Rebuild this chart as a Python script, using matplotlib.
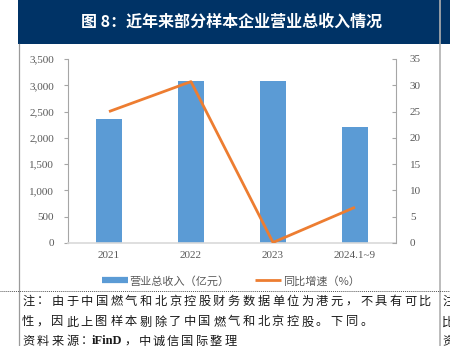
import matplotlib
matplotlib.use("Agg")
import matplotlib.pyplot as plt
from matplotlib.lines import Line2D
from matplotlib.patches import Rectangle

# ---- data ----
years = ["2021", "2022", "2023", "2024.1~9"]
revenue = [2350, 3080, 3080, 2210]          # 营业总收入（亿元）
growth = [25.0, 30.7, 0.1, 6.8]             # 同比增速（%）
left_ticks = [0, 500, 1000, 1500, 2000, 2500, 3000, 3500]
right_ticks = [0, 5, 10, 15, 20, 25, 30, 35]

title = "图 8：近年来部分样本企业营业总收入情况"
note1 = "注：由于中国燃气和北京控股财务数据单位为港元，不具有可比"
note2 = "性，因此上图样本剔除了中国燃气和北京控股。下同。"
src_a, src_b, src_c = "资料来源：", "iFinD", "，中诚信国际整理"
edge_chars = ["注", "比", "资"]

BLUE = "#5B9BD5"
ORANGE = "#ED7D31"
GREY_TXT = "#595959"
NAVY = "#003366"
CJK = ["Noto Sans CJK SC", "DejaVu Sans"]
SERIF = ["Liberation Serif", "Noto Sans CJK SC"]

W, H = 450, 346
fig = plt.figure(figsize=(W / 100, H / 100), dpi=100)
fig.patch.set_facecolor("white")


def fx(px):
    return px / W


def fy(py):
    return 1 - py / H


# header band and frame lines
fig.patches.append(Rectangle((fx(18), fy(44)), fx(450 - 18), 44 / H,
                             transform=fig.transFigure, facecolor=NAVY,
                             edgecolor="none", zorder=0))
fig.lines.append(Line2D([fx(18.5), fx(18.5)], [fy(44), 0], transform=fig.transFigure,
                        color="#9A9A9A", lw=0.9))
fig.lines.append(Line2D([fx(439.5), fx(439.5)], [1, 0], transform=fig.transFigure,
                        color="#B0B0B0", lw=1.2))
fig.lines.append(Line2D([0, 1], [fy(291), fy(291)], transform=fig.transFigure,
                        color="#555555", lw=0.7, linestyle=(0, (1, 1))))

fig.text(fx(232), fy(22), title, color="white", fontsize=11.5, fontweight="bold",
         family=CJK, ha="center", va="center")

# ---- chart ----
ax = fig.add_axes([fx(68), fy(243), fx(396 - 68), (243 - 59) / H])
x = list(range(len(years)))
ax.bar(x, revenue, width=0.31, color=BLUE, zorder=2)
ax.set_xlim(-0.5, 3.5)
ax.set_ylim(0, 3500)
ax.set_yticks(left_ticks)
ax.set_yticklabels([f"{v:,}" for v in left_ticks])
ax.set_xticks(x)
ax.set_xticklabels(years)
for s in ["top", "right"]:
    ax.spines[s].set_visible(False)
ax.spines["left"].set_color("#A6A6A6")
ax.spines["bottom"].set_color("#D9D9D9")
ax.spines["bottom"].set_linewidth(1.2)
ax.tick_params(axis="y", direction="out", length=3, color="#A6A6A6", pad=7,
               labelsize=8, labelcolor=GREY_TXT)
ax.tick_params(axis="x", length=0, pad=6, labelsize=8, labelcolor=GREY_TXT)
for lab in ax.get_xticklabels() + ax.get_yticklabels():
    lab.set_family(SERIF)

ax2 = ax.twinx()
ax2.plot(x, growth, color=ORANGE, lw=2.0, solid_capstyle="butt", zorder=3)
ax2.set_ylim(0, 35)
ax2.set_yticks(right_ticks)
for s in ["top", "left", "bottom"]:
    ax2.spines[s].set_visible(False)
ax2.spines["right"].set_color("#A6A6A6")
ax2.tick_params(axis="y", direction="in", length=3, color="#A6A6A6", pad=10,
                labelsize=8, labelcolor=GREY_TXT)
for lab in ax2.get_yticklabels():
    lab.set_family(SERIF)

# ---- legend ----
handles = [Line2D([], [], color=BLUE, lw=4.5, solid_capstyle="butt"),
           Line2D([], [], color=ORANGE, lw=2.0, solid_capstyle="butt")]
leg = fig.legend(handles, ["营业总收入（亿元）", "同比增速（%）"], ncol=2,
                 loc="center", bbox_to_anchor=(fx(231), fy(281)), frameon=False,
                 prop={"family": CJK, "size": 8}, handlelength=2.3,
                 handletextpad=0.2, columnspacing=2.3, labelcolor=GREY_TXT)

# ---- footnote ----
step = 14.7
TXT = "#1a1a1a"
for i, ch in enumerate(note1):
    fig.text(fx(22 + i * step), fy(301), ch, family=CJK, fontsize=8.8,
             color=TXT, ha="left", va="center")
for i, ch in enumerate(note2):
    fig.text(fx(22 + i * step), fy(322), ch, family=CJK, fontsize=8.8,
             color=TXT, ha="left", va="center")
for i, ch in enumerate(src_a):
    fig.text(fx(22 + i * step), fy(341), ch, family=CJK, fontsize=8.8,
             color=TXT, ha="left", va="center")
fig.text(fx(92), fy(341), src_b, family=SERIF, fontsize=9, fontweight="bold",
         color=TXT, ha="left", va="center")
for i, ch in enumerate(src_c):
    fig.text(fx(124 + i * 14.3), fy(341), ch, family=CJK, fontsize=8.8,
             color=TXT, ha="left", va="center")
for ch, yy in zip(edge_chars, [301, 322, 341]):
    fig.text(fx(442), fy(yy), ch, family=CJK, fontsize=8.8,
             color=TXT, ha="left", va="center")

fig.savefig("out.png", dpi=100)
